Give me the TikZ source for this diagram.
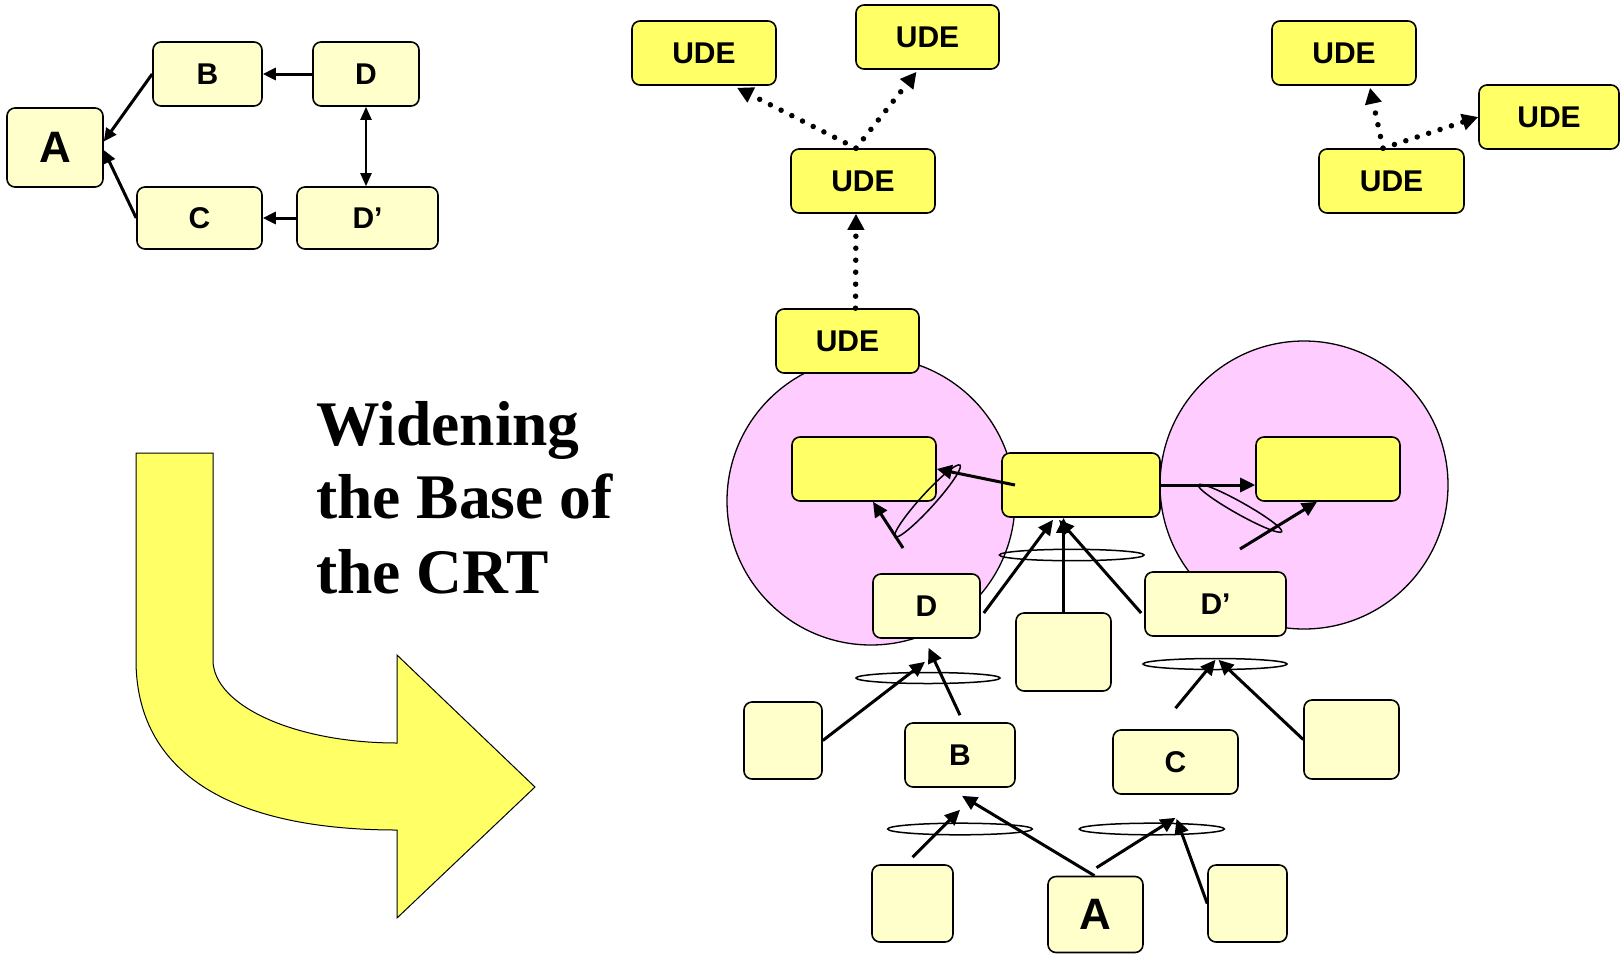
\documentclass[tikz,border=0pt]{standalone}
\usepackage{fontspec}
\setmainfont{Liberation Serif}
\newfontfamily\boxfont{Liberation Sans}
\usetikzlibrary{arrows.meta,calc}
\definecolor{paleyellow}{HTML}{FFFFCC}
\definecolor{brightyellow}{HTML}{FFFF66}
\definecolor{pinkzone}{HTML}{FFCCFF}
\tikzset{
  box/.style={draw=black, line width=1.6pt, rounded corners=8pt, inner sep=0pt,
    font=\boxfont\bfseries\fontsize{30}{30}\selectfont},
  pale/.style={box, fill=paleyellow},
  ude/.style={box, fill=brightyellow},
  bigletter/.style={font=\boxfont\bfseries\fontsize{44}{44}\selectfont},
  link/.style={line width=3pt, -{Triangle[length=15pt,width=14pt]}},
  slink/.style={line width=3pt, -{Triangle[length=13pt,width=12pt]}},
  dots/.style={line width=5.5pt, line cap=round, dash pattern=on 0pt off 12pt,
    -{Triangle[length=16pt,width=16pt]}},
  ring/.style={draw=black, line width=1.5pt},
  zone/.style={draw=black, line width=1.3pt, fill=pinkzone},
  title/.style={anchor=base west, inner sep=0pt, font=\bfseries\fontsize{63.5}{74}\selectfont},
}
\begin{document}
\begin{tikzpicture}[x=1pt, y=-1pt]
\useasboundingbox (0,0) rectangle (1620,954);

% ---------- small cause-effect graph (top left) ----------
\node[pale, bigletter, minimum width=96pt, minimum height=79pt] (sA) at (55,147.5) {A};
\node[pale, minimum width=109pt, minimum height=64pt] (sB) at (207.5,74) {B};
\node[pale, minimum width=106pt, minimum height=64pt] (sD) at (366,74) {D};
\node[pale, minimum width=125pt, minimum height=62pt] (sC) at (199.5,218) {C};
\node[pale, minimum width=141pt, minimum height=62pt] (sDp) at (367.5,218) {D’};
\draw[slink] (sB.west) -- ([yshift=6pt]sA.east);
\draw[slink] (sC.west) -- ([yshift=-2.5pt]sA.east);
\draw[slink] (sD.west) -- (sB.east);
\draw[slink] (sDp.west) -- (sC.east);
\draw[line width=2pt, {Triangle[length=13pt,width=11pt]}-{Triangle[length=13pt,width=11pt]}]
  (sD.south) -- (sD.south |- sDp.north);

% ---------- bent arrow and title ----------
\draw[fill=brightyellow, line width=1pt, line join=miter]
  (136,453) -- (213,453) -- (213,660)
  .. controls (213,705.8) and (295.4,743) .. (397,743)
  -- (397,655) -- (535,787) -- (397,918) -- (397,830)
  .. controls (227.4,830) and (136,770.5) .. (136,660) -- cycle;
\node[title] (t1) at (316,445) {Widening};
\node[title] (t2) at (316,518) {the Base of};
\node[title] (t3) at (316,593) {the CRT};

% ---------- pink zones ----------
\draw[zone] (871,501) circle [radius=144pt];
\draw[zone] (1304,485) circle [radius=144pt];

% ---------- UDE boxes ----------
\node[ude, minimum width=144pt, minimum height=64pt] (u1) at (704,53) {UDE};
\node[ude, minimum width=143pt, minimum height=64pt] (u2) at (927.5,37) {UDE};
\node[ude, minimum width=144pt, minimum height=64pt] (u3) at (863,181) {UDE};
\node[ude, minimum width=143pt, minimum height=64pt] (u4) at (847.5,341) {UDE};
\node[ude, minimum width=144pt, minimum height=64pt] (u5) at (1344,53) {UDE};
\node[ude, minimum width=140pt, minimum height=64pt] (u6) at (1549,117) {UDE};
\node[ude, minimum width=145pt, minimum height=64pt] (u7) at (1391.5,181) {UDE};

% ---------- widened tree ----------
\node[ude, minimum width=144pt, minimum height=64pt] (pL) at (864,469) {};
\node[ude, minimum width=158pt, minimum height=64pt] (pC) at (1081,485) {};
\node[ude, minimum width=144pt, minimum height=64pt] (pR) at (1328,469) {};

\node[pale, minimum width=107pt, minimum height=64pt] (D) at (926.5,606) {D};
\node[pale, minimum width=141pt, minimum height=64pt] (Dp) at (1215.5,604) {D’};
\node[pale, minimum width=95pt, minimum height=78pt] (mid) at (1063.5,652) {};
\node[pale, minimum width=78pt, minimum height=77pt] (lb) at (783,740.5) {};
\node[pale, minimum width=110pt, minimum height=64pt] (B) at (960,755) {B};
\node[pale, minimum width=125pt, minimum height=64pt] (C) at (1175.5,762) {C};
\node[pale, minimum width=95pt, minimum height=79pt] (rb) at (1351.5,739.5) {};
\node[pale, minimum width=81pt, minimum height=77pt] (bl) at (912.5,903.5) {};
\node[pale, bigletter, minimum width=95pt, minimum height=76pt] (A) at (1095.5,914.5) {A};
\node[pale, minimum width=79pt, minimum height=77pt] (br) at (1247.5,903.5) {};

% "and" rings
\draw[ring] (1071.7,555) ellipse [x radius=72.3pt, y radius=5.7pt];
\draw[ring] (928,678) ellipse [x radius=72pt, y radius=5.5pt];
\draw[ring] (1215,664) ellipse [x radius=72pt, y radius=5.5pt];
\draw[ring] (960,829) ellipse [x radius=72.3pt, y radius=5.8pt];
\draw[ring] (1151.8,829) ellipse [x radius=72.5pt, y radius=5.8pt];
\draw[ring, rotate around={47.8:(927.5,501)}] (927.5,501) ellipse [x radius=48.4pt, y radius=7pt];
\draw[ring, rotate around={-29.3:(1240,508.3)}] (1240,508.3) ellipse [x radius=47.8pt, y radius=6pt];

% causal links
\coordinate (tL) at (903,548);
\coordinate (tR) at (1240,549);
\draw[link] ([xshift=-66pt]pC.center) -- (pL.east);
\draw[link] (tL) -- ([xshift=9pt]pL.south);
\draw[link] (pC.east) -- (pC.east -| pR.west);
\draw[link] (tR) -- ([xshift=-11pt]pR.south);

\draw[link] ([xshift=3pt,yshift=-7pt]D.east) -- ([xshift=-28pt,yshift=-2pt]pC.south);
\draw[link] (mid.north) -- (mid.north |- pC.south);
\draw[link] ([xshift=-3pt,yshift=-9pt]Dp.west) -- ([xshift=-22pt,yshift=-2pt]pC.south);

\draw[link] (lb.east) -- ([xshift=-1.5pt,yshift=-23pt]D.south);
\draw[link] ([yshift=7pt]B.north) -- ([xshift=2pt,yshift=-9pt]D.south);
\draw[link] ([yshift=21pt]C.north) -- ([yshift=-23pt]Dp.south);
\draw[link] (rb.west) -- ([xshift=3pt,yshift=-23pt]Dp.south);

\draw[link] ([yshift=7pt]bl.north) -- ([yshift=-22pt]B.south);
\draw[link] ([xshift=-1pt]A.north) -- ([xshift=2pt,yshift=-8pt]B.south);
\draw[link] ([xshift=1pt,yshift=8pt]A.north) -- ([yshift=-23pt]C.south);
\draw[link] (br.west) -- ([xshift=1pt,yshift=-24pt]C.south);

% dotted effect links between UDEs
\draw[dots] ([xshift=-7pt]u3.north) -- ([xshift=33pt,yshift=-2pt]u1.south);
\draw[dots] ([xshift=-7pt]u3.north) -- ([xshift=-11pt,yshift=-2pt]u2.south);
\draw[dots] ([xshift=8pt]u4.north) -- ([xshift=-7pt]u3.south);
\draw[dots] ([xshift=-8.5pt]u7.north) -- ([xshift=26pt,yshift=-2pt]u5.south);
\draw[dots] ([xshift=-8.5pt]u7.north) -- (u6.west);
\end{tikzpicture}
\end{document}
